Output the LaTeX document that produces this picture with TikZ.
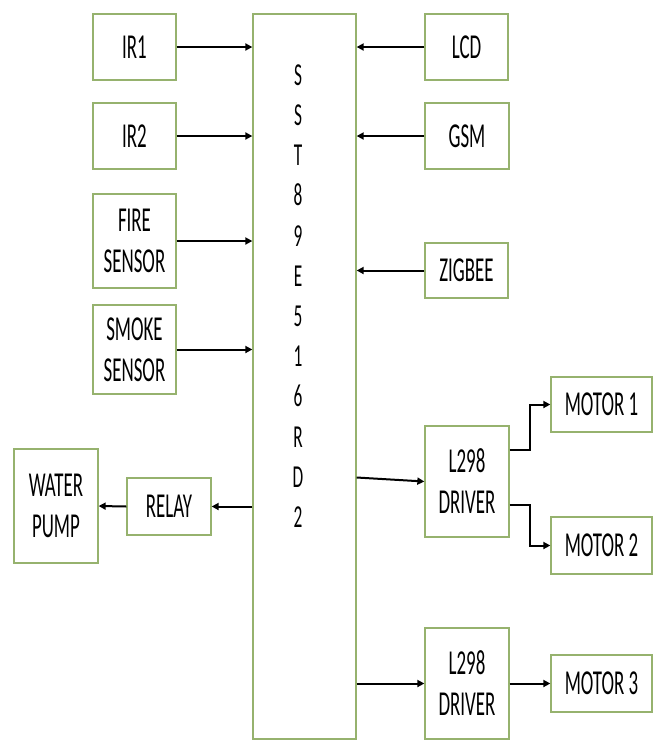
\documentclass[tikz,border=0pt]{standalone}
\usepackage{fontspec}
\newfontfamily\calfont[FakeStretch=0.54]{Carlito}
\usetikzlibrary{arrows.meta}
\definecolor{boxgreen}{RGB}{150,178,110}
\begin{document}
\begin{tikzpicture}[x=1pt,y=-1pt,
  blk/.style={draw=boxgreen,line width=1.3pt,fill=white,inner sep=1pt,align=center,
    font=\calfont\fontsize{35}{41}\selectfont},
  arr/.style={draw=black,line width=2pt,-{Triangle[length=7pt,width=7pt]}}]
\useasboundingbox (0,0) rectangle (658,748);
% main controller
\node[draw=boxgreen,line width=1.3pt,minimum width=103pt,minimum height=725pt,inner sep=0pt] (main) at (304.5,376.5) {};
\node[align=center,inner sep=0pt,font=\calfont\fontsize{32}{40.2}\selectfont] (mainlabel) at (298,296)
  {S\\S\\T\\8\\9\\E\\5\\1\\6\\R\\D\\2};
% left inputs
\node[blk,minimum width=83pt,minimum height=66pt] (ir1) at (134.5,47) {IR1};
\node[blk,minimum width=83pt,minimum height=66pt] (ir2) at (134.5,136) {IR2};
\node[blk,minimum width=83pt,minimum height=94pt] (fire) at (134.5,241) {FIRE\\SENSOR};
\node[blk,minimum width=83pt,minimum height=89pt] (smoke) at (134.5,349.5) {SMOKE\\SENSOR};
% right modules
\node[blk,minimum width=83pt,minimum height=66pt] (lcd) at (466.5,47) {LCD};
\node[blk,minimum width=84pt,minimum height=66pt] (gsm) at (467,136) {GSM};
\node[blk,minimum width=83pt,minimum height=55pt] (zig) at (466.5,270.5) {ZIGBEE};
% relay and pump
\node[blk,minimum width=84pt,minimum height=114pt] (pump) at (56,506) {WATER\\PUMP};
\node[blk,minimum width=84pt,minimum height=57pt] (relay) at (169,506.5) {RELAY};
% drivers and motors
\node[blk,minimum width=84pt,minimum height=111pt] (drv1) at (467,481.5) {L298\\DRIVER};
\node[blk,minimum width=84pt,minimum height=111pt] (drv2) at (467,683.5) {L298\\DRIVER};
\node[blk,minimum width=101pt,minimum height=55pt] (m1) at (601.5,404.5) {MOTOR 1};
\node[blk,minimum width=101pt,minimum height=57pt] (m2) at (601.5,545.5) {MOTOR 2};
\node[blk,minimum width=101pt,minimum height=57pt] (m3) at (601.5,683.5) {MOTOR 3};
% arrows into main
\draw[arr] (ir1.east) -- (ir1.east -| main.west);
\draw[arr] (ir2.east) -- (ir2.east -| main.west);
\draw[arr] (fire.east) -- (fire.east -| main.west);
\draw[arr] (smoke.east) -- (smoke.east -| main.west);
\draw[arr] (lcd.west) -- (lcd.west -| main.east);
\draw[arr] (gsm.west) -- (gsm.west -| main.east);
\draw[arr] (zig.west) -- (zig.west -| main.east);
% outputs
\draw[arr] (relay.east -| main.west) -- (relay.east);
\draw[arr] (relay.west) -- (pump.east);
\path (drv1.west -| main.east) ++(0,-4) coordinate (d1src);
\draw[arr] (d1src) -- (drv1.west);
\draw[arr] (drv2.west -| main.east) -- (drv2.west);
\draw[arr] (drv2.east) -- (m3.west);
\path (drv1.east) ++(0,-31.5) coordinate (d1a);
\path (drv1.east) ++(0,23.5) coordinate (d1b);
\draw[arr] (d1a) -- ++(20,0) |- (m1.west);
\draw[arr] (d1b) -- ++(20,0) |- (m2.west);
\end{tikzpicture}
\end{document}
